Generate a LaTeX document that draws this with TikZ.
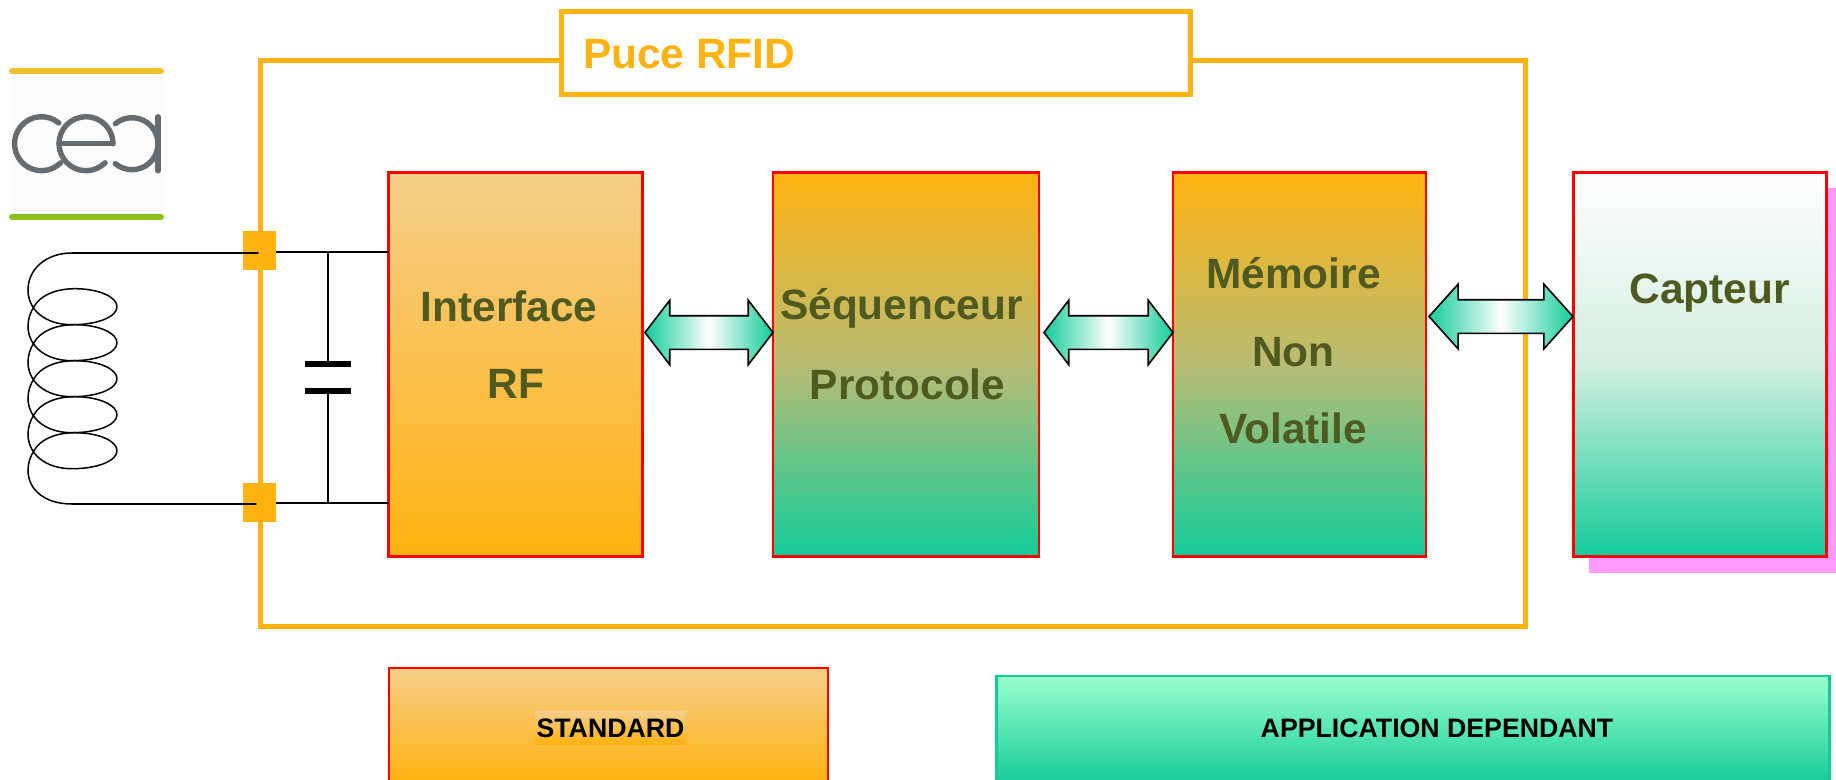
\documentclass[tikz,border=0pt]{standalone}
\usepackage{fontspec}
\setmainfont{Liberation Sans}
\usetikzlibrary{shapes.arrows,calc}
\definecolor{gold}{HTML}{FFB311}
\definecolor{pale}{HTML}{F5CE8A}
\definecolor{teal}{HTML}{14CC9A}
\definecolor{mint}{HTML}{99FFCC}
\definecolor{olive}{HTML}{4F5A20}
\definecolor{shadowpink}{HTML}{FF99FF}
\definecolor{cealgray}{HTML}{666B70}
\definecolor{mixmid}{HTML}{B8BC74}
\definecolor{capmid}{HTML}{D2EFE0}
\definecolor{lgtop}{HTML}{F3C02D}
\definecolor{lgbot}{HTML}{8CC21C}
\tikzset{
  every node/.style={outer sep=0pt},
  block/.style={draw=red,line width=2.4pt,rectangle,inner sep=0pt,minimum width=#1,minimum height=384pt,anchor=north west},
  stdfill/.style={top color=pale,bottom color=gold},
  mixfill/.style={top color=gold,bottom color=teal,middle color=mixmid},
  capfill/.style={top color=white,bottom color=teal,middle color=capmid},
  lab/.style={font=\fontsize{42.4}{50}\selectfont\bfseries,text=olive,inner sep=0pt,anchor=base},
  leg/.style={font=\fontsize{26.7}{30}\selectfont\bfseries,text=black,inner sep=0pt,anchor=base},
  dblarrow/.style={draw=black,line width=1.6pt,double arrow,inner xsep=0pt,inner ysep=16pt,
    minimum height=#1,minimum width=63pt,double arrow head extend=15.5pt,
    double arrow tip angle=105,left color=teal,right color=teal,middle color=white},
  padbox/.style={fill=gold,inner sep=0pt,minimum width=33pt,minimum height=39pt},
  wire/.style={draw=black,line width=1.4pt},
  coilwire/.style={draw=black,line width=1.5pt,line cap=round,line join=round},
  chipline/.style={draw=gold,line width=5pt},
  plate/.style={draw=black,line width=6pt},
  ceastroke/.style={draw=cealgray,line width=5.4pt,line cap=round},
}
\begin{document}
\begin{tikzpicture}[x=1pt,y=-1pt]
\useasboundingbox (0,0) rectangle (1836,779);
\clip (0,0) rectangle (1836,779);
% chip outline
\node[chipline,rectangle,inner sep=0pt,minimum width=1265pt,minimum height=566pt,anchor=north west] (chip) at (260.5,60) {};
\node[chipline,fill=white,rectangle,inner sep=0pt,minimum width=629pt,minimum height=83pt,anchor=north west] (title) at (561,11) {};
\node[font=\fontsize{42.4}{50}\selectfont\bfseries,text=gold,inner sep=0pt,anchor=base west] (titletext) at (583,68) {Puce RFID};
% logo
\fill[fill=black!1!white] (10,75) rectangle (163,212);
\coordinate (barA) at (12,71); \coordinate (barB) at (161,71);
\coordinate (barC) at (12,217); \coordinate (barD) at (161,217);
\draw[draw=lgtop,line width=6pt,line cap=round] (barA) -- (barB);
\draw[draw=lgbot,line width=6pt,line cap=round] (barC) -- (barD);
\begin{scope}[shift={(0,143.7)},y=1pt]
\draw[ceastroke] (41.5,0) ++(50:27) arc[start angle=50,end angle=315,radius=27];
\draw[ceastroke] (86,0) ++(0:27) arc[start angle=0,end angle=315,radius=27];
\draw[ceastroke] (59,0) -- (113,0);
\draw[ceastroke] (132,0) ++(130:26) arc[start angle=130,end angle=-130,radius=26];
\draw[ceastroke] (158,27) -- (158,-27);
\end{scope}
% blocks
\node[block=254pt,stdfill] (iface) at (388.5,172.5) {};
\node[block=266pt,mixfill] (seq) at (773,172.5) {};
\node[block=253pt,mixfill] (mem) at (1173,172.5) {};
\fill[shadowpink] (1589,188) rectangle (1836,573);
\node[block=253pt,capfill] (capt) at (1573.5,172.5) {};
% labels
\node[lab] (l1) at (509,321) {Interface};
\node[lab] (l2) at (516,398) {RF};
\node[lab] (l3) at (901.5,319) {Séquenceur};
\node[lab] (l4) at (907.5,399) {Protocole};
\node[lab] (l5) at (1293.5,288) {Mémoire};
\node[lab] (l6) at (1293.5,366) {Non};
\node[lab] (l7) at (1293,443) {Volatile};
\node[lab] (l8) at (1709.5,303) {Capteur};
% arrows
\node[dblarrow=128pt] (a1) at (709,332.5) {};
\node[dblarrow=129pt] (a2) at (1108.5,332.5) {};
\node[dblarrow=144pt,double arrow tip angle=96] (a3) at (1501,316.5) {};
% pads and wires
\node[padbox] (padT) at (259.5,250.5) {};
\node[padbox] (padB) at (259.5,502.5) {};
\coordinate (wT) at (padT.east |- 0,252);
\coordinate (wB) at (padB.east |- 0,503);
\draw[wire] (wT) -- (wT -| iface.west);
\draw[wire] (wB) -- (wB -| iface.west);
\coordinate (capT) at (328,252);
\coordinate (capB) at (328,503);
\coordinate (plA) at (328,363.5);
\coordinate (plB) at (328,391);
\draw[wire] (capT) -- (plA);
\draw[wire] (plB) -- (capB);
\draw[plate] ($(plA)+(-23,0)$) -- ($(plA)+(23,0)$);
\draw[plate] ($(plB)+(-23,0)$) -- ($(plB)+(23,0)$);
% coil
\coordinate (coilT) at (72,253);
\coordinate (coilB) at (72,504);
\draw[coilwire] (coilT) -- (258,253);
\draw[coilwire] (coilB) -- (256,504);
\draw[coilwire] (coilT) .. controls (45,253) and (28,270) .. (28,290);
\foreach \c in {306.7,342.7,378.7,414.7,450.7}{
  \draw[coilwire] (28,\c-16.7) .. controls (28,\c+3) and (45,\c+18) .. (72,\c+18)
     .. controls (98,\c+18) and (117,\c+10) .. (117,\c)
     .. controls (117,\c-10) and (98,\c-18) .. (75,\c-18)
     .. controls (55,\c-18) and (40,\c-11) .. (34,\c)
     .. controls (30,\c+6) and (28,\c+13) .. (28,\c+19.3);
}
\draw[coilwire] (28,470) .. controls (28,490) and (45,504) .. (coilB);
% legend
\node[draw=red,line width=2.4pt,stdfill,rectangle,inner sep=0pt,minimum width=439pt,minimum height=114pt,anchor=north west] (std) at (389,668) {};
\node[stdfill,rectangle,inner sep=0pt,minimum width=151pt,minimum height=33pt,anchor=north west] (stdbg) at (535,711) {};
\node[leg] (stdt) at (610.5,737) {STANDARD};
\node[draw=teal,line width=2.5pt,top color=mint,bottom color=teal,rectangle,inner sep=0pt,minimum width=833pt,minimum height=108pt,anchor=north west] (app) at (996.5,676) {};
\node[leg] (appt) at (1437,737) {APPLICATION DEPENDANT};
\end{tikzpicture}
\end{document}
